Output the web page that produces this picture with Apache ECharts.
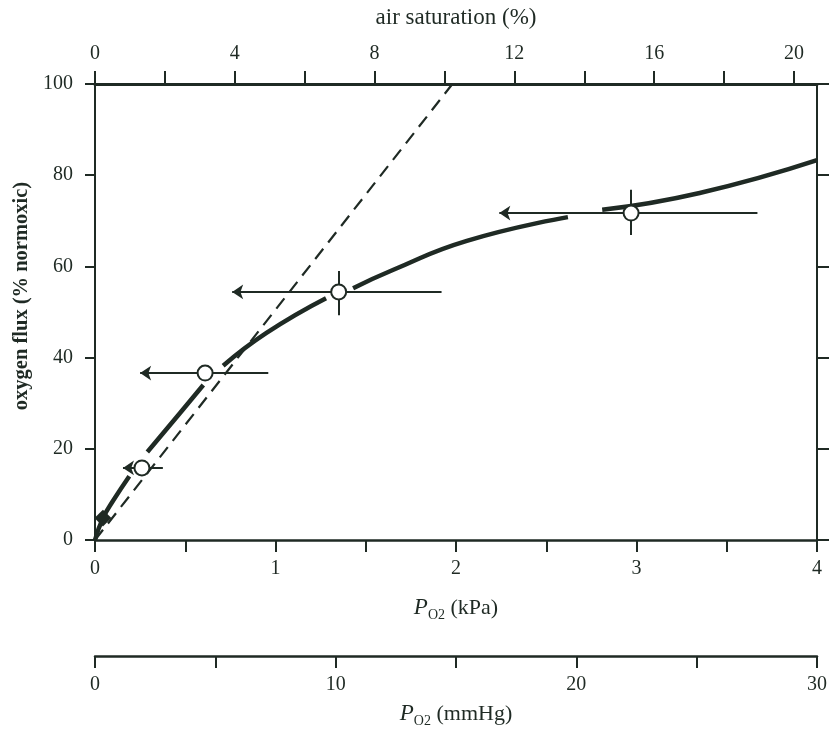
<!DOCTYPE html>
<html>
<head>
<meta charset="utf-8">
<title>oxygen flux</title>
<script src="https://cdn.jsdelivr.net/npm/echarts@6/dist/echarts.min.js"></script>
<style>
    html, body { margin: 0; padding: 0; background: #ffffff; }
    #main { width: 830px; height: 736px; }
</style>
</head>
<body>
<div id="main"></div>
<script>
// thick solid curve, drawn in pieces (gaps next to the markers), P in kPa
var curveSegs = [
    [[0, 0], [0.044, 4.8], [0.1, 8.6], [0.19, 14.0]],
    [[0.29, 19.3], [0.47, 27.8], [0.6, 34.0]],
    [[0.71, 38.2], [0.95, 45.4], [1.28, 53.0]],
    [[1.43, 55.2], [1.65, 59.2], [2.06, 65.6], [2.62, 70.8]],
    [[2.81, 72.4], [3.35, 76.1], [4.0, 83.3]]
];
// dashed straight line
var dashLine = [[0, 0], [1.98, 100]];
// filled diamond
var diamondPt = [[0.044, 4.8]];
// open circles and their horizontal ranges (arrow to the left)
var circlePts = [[0.26, 15.8], [0.61, 36.6], [1.35, 54.4], [2.97, 71.7]];
var arrowLeft = [0.155, 0.25, 0.76, 2.24];
var arrowRight = [0.376, 0.96, 1.92, 3.67];
// vertical bars: [x, low, high]
var vBars = [[1.35, 49.3, 59.0], [2.97, 66.9, 76.8]];

// axes ticks / labels
var kpaTicks = [0, 0.5, 1, 1.5, 2, 2.5, 3, 3.5, 4];
var kpaLabels = [0, 1, 2, 3, 4];
var mmTicks = [0, 5, 10, 15, 20, 25, 30];
var mmLabels = [0, 10, 20, 30];
var satTicks = [0, 2, 4, 6, 8, 10, 12, 14, 16, 18, 20];
var satLabels = [0, 4, 8, 12, 16, 20];
var fluxTicks = [0, 20, 40, 60, 80, 100];

var ink = '#1f2a24';
var serif = '"Liberation Serif", "DejaVu Serif", serif';

var dom = document.getElementById('main');
var myChart = echarts.init(dom, null, {renderer: 'canvas'});

var arrowData = [];
for (var i = 0; i < circlePts.length; i++) {
    arrowData.push([
        {coord: [arrowLeft[i], circlePts[i][1]]},
        {coord: [arrowRight[i], circlePts[i][1]]}
    ]);
}
var barData = [];
for (i = 0; i < vBars.length; i++) {
    barData.push([
        {coord: [vBars[i][0], vBars[i][1]]},
        {coord: [vBars[i][0], vBars[i][2]]}
    ]);
}

var subRich = {
    p: {fontFamily: serif, fontStyle: 'italic', fontSize: 23, color: ink, lineHeight: 28},
    s: {fontFamily: serif, fontSize: 14, color: ink, lineHeight: 15, verticalAlign: 'bottom'}
};

var series = [];
for (i = 0; i < curveSegs.length; i++) {
    series.push({
        type: 'line',
        xAxisIndex: 0,
        yAxisIndex: 0,
        data: curveSegs[i],
        smooth: true,
        symbol: 'none',
        lineStyle: {color: ink, width: 4.5},
        z: 3
    });
}
series.push({
    type: 'line',
    data: dashLine,
    symbol: 'none',
    lineStyle: {color: ink, width: 2.2, type: [13, 8]},
    z: 2
});
series.push({
    type: 'line',
    data: [],
    symbol: 'none',
    markLine: {
        silent: true,
        animation: false,
        symbol: ['arrow', 'none'],
        symbolSize: 11,
        label: {show: false},
        lineStyle: {color: ink, width: 2, type: 'solid'},
        data: arrowData
    },
    z: 4
});
series.push({
    type: 'line',
    data: [],
    symbol: 'none',
    markLine: {
        silent: true,
        animation: false,
        symbol: ['none', 'none'],
        label: {show: false},
        lineStyle: {color: ink, width: 2, type: 'solid'},
        data: barData
    },
    z: 4
});
series.push({
    type: 'scatter',
    data: circlePts,
    symbol: 'circle',
    symbolSize: 15,
    itemStyle: {color: '#ffffff', borderColor: ink, borderWidth: 2, opacity: 1},
    z: 6
});
series.push({
    type: 'scatter',
    data: diamondPt,
    symbol: 'rect',
    symbolSize: 12,
    symbolRotate: 45,
    itemStyle: {color: ink, opacity: 1},
    z: 6
});

var option = {
    animation: false,
    backgroundColor: '#ffffff',
    grid: {left: 95, right: 12, top: 84, bottom: 196, containLabel: false},
    xAxis: [
        {
            type: 'value',
            position: 'bottom',
            min: 0,
            max: 4,
            name: '{p|P}{s|O2} (kPa)',
            nameLocation: 'middle',
            nameGap: 54,
            nameTextStyle: {fontFamily: serif, fontSize: 22, color: ink, lineHeight: 28, rich: subRich},
            axisLine: {show: true, onZero: false, lineStyle: {color: ink, width: 2.5}},
            axisTick: {show: true, inside: false, length: 12, customValues: kpaTicks, lineStyle: {color: ink, width: 2}},
            axisLabel: {customValues: kpaLabels, margin: 19, fontFamily: serif, fontSize: 20, color: ink},
            splitLine: {show: false}
        },
        {
            type: 'value',
            position: 'top',
            min: 0,
            max: 20.66,
            name: 'air saturation (%)',
            nameLocation: 'middle',
            nameGap: 55,
            nameTextStyle: {fontFamily: serif, fontSize: 23, color: ink},
            axisLine: {show: true, onZero: false, lineStyle: {color: ink, width: 3}},
            axisTick: {show: true, inside: false, length: 13, customValues: satTicks, lineStyle: {color: ink, width: 2}},
            axisLabel: {customValues: satLabels, margin: 20, fontFamily: serif, fontSize: 20, color: ink},
            splitLine: {show: false}
        },
        {
            type: 'value',
            position: 'bottom',
            offset: 116,
            min: 0,
            max: 30,
            name: '{p|P}{s|O2} (mmHg)',
            nameLocation: 'middle',
            nameGap: 44,
            nameTextStyle: {fontFamily: serif, fontSize: 22, color: ink, lineHeight: 28, rich: subRich},
            axisLine: {show: true, onZero: false, lineStyle: {color: ink, width: 2.5}},
            axisTick: {show: true, inside: false, length: 12, customValues: mmTicks, lineStyle: {color: ink, width: 2}},
            axisLabel: {customValues: mmLabels, margin: 19, fontFamily: serif, fontSize: 20, color: ink},
            splitLine: {show: false}
        }
    ],
    yAxis: [
        {
            type: 'value',
            position: 'left',
            min: 0,
            max: 100,
            interval: 20,
            name: 'oxygen flux (% normoxic)',
            nameLocation: 'middle',
            nameGap: 60,
            nameRotate: 90,
            nameTextStyle: {fontFamily: serif, fontSize: 20.5, fontWeight: 'bold', color: ink, padding: [0, 0, 0, 32]},
            axisLine: {show: true, onZero: false, lineStyle: {color: ink, width: 2}},
            axisTick: {show: true, inside: false, length: 10, lineStyle: {color: ink, width: 2}},
            axisLabel: {margin: 22, fontFamily: serif, fontSize: 20, color: ink},
            splitLine: {show: false}
        },
        {
            type: 'value',
            position: 'right',
            min: 0,
            max: 100,
            interval: 20,
            axisLine: {show: true, onZero: false, lineStyle: {color: ink, width: 2}},
            axisTick: {show: true, inside: false, length: 12, customValues: fluxTicks, lineStyle: {color: ink, width: 2}},
            axisLabel: {show: false},
            splitLine: {show: false}
        }
    ],
    series: series
};

if (option && typeof option === "object") {
    myChart.setOption(option, true);
}
</script>
</body>
</html>
